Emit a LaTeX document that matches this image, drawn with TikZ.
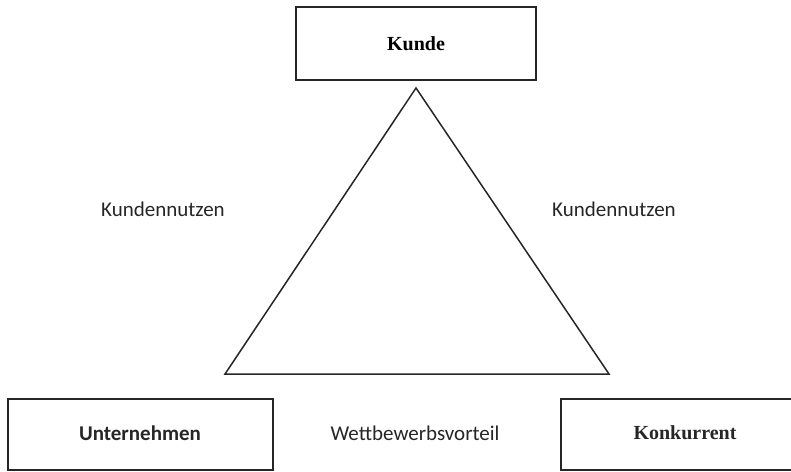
\documentclass[tikz,border=0pt]{standalone}
\usepackage{fontspec}
\setmainfont{Liberation Serif}
\newfontfamily\carlito{Carlito}
\usepackage{tikz}

\begin{document}
\begin{tikzpicture}[x=1pt,y=-1pt]
\clip (0,0) rectangle (791,471);
\useasboundingbox (0,0) rectangle (791,471);

\begin{scope}[every node/.style={rectangle,draw=black!85,line width=1.5pt,inner sep=0pt}]
    \node[minimum width=240pt,minimum height=73pt] (kunde) at (416,43.5) {\fontsize{20}{24}\selectfont\bfseries Kunde};
    \node[minimum width=265pt,minimum height=71pt] (unternehmen) at (140.5,434.5) {};
    \node[minimum width=248pt,minimum height=71pt] (konkurrent) at (685,434.5) {};
    \end{scope}

\begin{scope}[every node/.style={text=black!85}]
    \node at (140,433) {\carlito\fontsize{21}{25}\selectfont\bfseries Unternehmen};
    \node at (685,433) {\fontsize{20}{24}\selectfont\bfseries Konkurrent};
    \node (nutzenL) at (163,209) {\carlito\fontsize{21}{25}\selectfont Kundennutzen};
    \node (nutzenR) at (614,209) {\carlito\fontsize{21}{25}\selectfont Kundennutzen};
    \node (vorteil) at (415,433) {\carlito\fontsize{21}{25}\selectfont Wettbewerbsvorteil};
    \end{scope}

\coordinate (spitze) at (416,88);
\coordinate (links) at (225,374);
\coordinate (rechts) at (609,374);
\draw[line width=1.5pt,black!85,line join=miter] (spitze) -- (rechts) -- (links) -- cycle;

\end{tikzpicture}
\end{document}
